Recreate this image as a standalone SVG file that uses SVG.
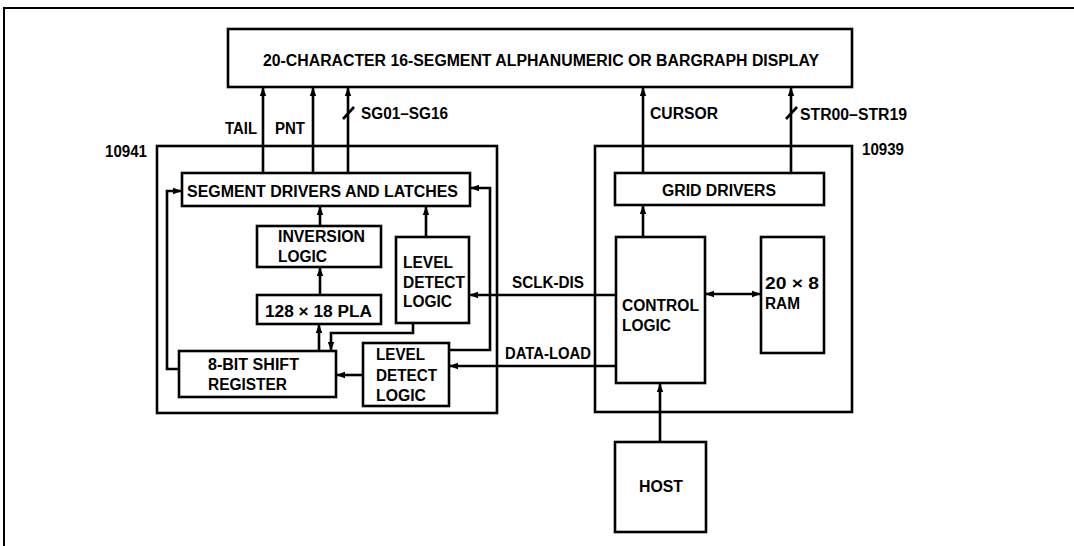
<svg xmlns="http://www.w3.org/2000/svg" width="1074" height="546" viewBox="0 0 1074 546">
<style>
.b{fill:#fff;stroke:#000;stroke-width:2.6}
.c{fill:none;stroke:#000;stroke-width:2.6}
.f{fill:none;stroke:#000;stroke-width:2}
text{font-family:"Liberation Sans",Arial,sans-serif;font-weight:bold;font-size:16px;fill:#000}
.m{text-anchor:middle}
</style>
<defs>
<marker id="a" markerUnits="userSpaceOnUse" markerWidth="10" markerHeight="8" refX="9" refY="4" orient="auto">
<path d="M0,0.8 L9,4 L0,7.2 z" fill="#000"/>
</marker>
<marker id="s" markerUnits="userSpaceOnUse" markerWidth="10" markerHeight="8" refX="0" refY="4" orient="auto">
<path d="M9,0.8 L0,4 L9,7.2 z" fill="#000"/>
</marker>
</defs>
<g id="frame">
<path class="f" d="M4,546 V8 H1074"/>
</g>
<g id="chip10941">
<rect class="c" x="157" y="146" width="340" height="267"/>
<text x="105" y="157" textLength="42" lengthAdjust="spacingAndGlyphs">10941</text>
</g>
<g id="chip10939">
<rect class="c" x="595" y="146" width="257" height="266"/>
<text x="862" y="155" textLength="42" lengthAdjust="spacingAndGlyphs">10939</text>
</g>
<g id="connectors">
<path class="c" d="M263,173 V87" marker-end="url(#a)"/>
<path class="c" d="M313,173 V87" marker-end="url(#a)"/>
<path class="c" d="M348,173 V87" marker-end="url(#a)"/>
<path class="c" d="M343,119 L354,107"/>
<path class="c" d="M643,173 V87" marker-end="url(#a)"/>
<path class="c" d="M791,173 V87" marker-end="url(#a)"/>
<path class="c" d="M786,119 L797,107"/>
<path class="c" d="M320,226 V206" marker-end="url(#a)"/>
<path class="c" d="M426,237 V206" marker-end="url(#a)"/>
<path class="c" d="M320,295 V267" marker-end="url(#a)"/>
<path class="c" d="M319,351 V324" marker-end="url(#a)"/>
<path class="c" d="M413,323 V333 H331 V351" marker-end="url(#a)"/>
<path class="c" d="M179,369 H167 V191 H182" marker-end="url(#a)"/>
<path class="c" d="M449,350 H490 V188 H470" marker-end="url(#a)"/>
<path class="c" d="M363,375 H336" marker-end="url(#a)"/>
<path class="c" d="M616,295 H469" marker-end="url(#a)"/>
<path class="c" d="M616,366 H449" marker-end="url(#a)"/>
<path class="c" d="M705,294 H761" marker-start="url(#s)" marker-end="url(#a)"/>
<path class="c" d="M643,237 V205" marker-end="url(#a)"/>
<path class="c" d="M660,442 V383" marker-end="url(#a)"/>
<text x="225" y="134" textLength="32" lengthAdjust="spacingAndGlyphs">TAIL</text>
<text x="275" y="134" textLength="30" lengthAdjust="spacingAndGlyphs">PNT</text>
<text x="361" y="119" textLength="87" lengthAdjust="spacingAndGlyphs">SG01–SG16</text>
<text x="650" y="119" textLength="68" lengthAdjust="spacingAndGlyphs">CURSOR</text>
<text x="800" y="120" textLength="107" lengthAdjust="spacingAndGlyphs">STR00–STR19</text>
<text x="512" y="288" textLength="72" lengthAdjust="spacingAndGlyphs">SCLK-DIS</text>
<text x="505" y="359" textLength="86" lengthAdjust="spacingAndGlyphs">DATA-LOAD</text>
</g>
<g id="display">
<rect class="b" x="228" y="29" width="624" height="58"/>
<text x="263" y="66" textLength="556" lengthAdjust="spacingAndGlyphs">20-CHARACTER 16-SEGMENT ALPHANUMERIC OR BARGRAPH DISPLAY</text>
</g>
<g id="segment-drivers">
<rect class="b" x="182" y="173" width="288" height="33"/>
<text x="187" y="197" textLength="271" lengthAdjust="spacingAndGlyphs">SEGMENT DRIVERS AND LATCHES</text>
</g>
<g id="inversion-logic">
<rect class="b" x="257" y="226" width="124" height="41"/>
<text x="278" y="242" textLength="87" lengthAdjust="spacingAndGlyphs">INVERSION</text>
<text x="278" y="262" textLength="49" lengthAdjust="spacingAndGlyphs">LOGIC</text>
</g>
<g id="level-detect-1">
<rect class="b" x="396" y="237" width="73" height="86"/>
<text x="403" y="268" textLength="50" lengthAdjust="spacingAndGlyphs">LEVEL</text>
<text x="403" y="288" textLength="62" lengthAdjust="spacingAndGlyphs">DETECT</text>
<text x="403" y="307" textLength="49" lengthAdjust="spacingAndGlyphs">LOGIC</text>
</g>
<g id="pla">
<rect class="b" x="257" y="295" width="124" height="29"/>
<text x="265" y="317" textLength="107" lengthAdjust="spacingAndGlyphs">128 × 18 PLA</text>
</g>
<g id="shift-register">
<rect class="b" x="179" y="351" width="157" height="46"/>
<text x="208" y="370" textLength="91" lengthAdjust="spacingAndGlyphs">8-BIT SHIFT</text>
<text x="208" y="390" textLength="79" lengthAdjust="spacingAndGlyphs">REGISTER</text>
</g>
<g id="level-detect-2">
<rect class="b" x="363" y="343" width="86" height="63"/>
<text x="376" y="360" textLength="49" lengthAdjust="spacingAndGlyphs">LEVEL</text>
<text x="376" y="381" textLength="61" lengthAdjust="spacingAndGlyphs">DETECT</text>
<text x="376" y="401" textLength="50" lengthAdjust="spacingAndGlyphs">LOGIC</text>
</g>
<g id="grid-drivers">
<rect class="b" x="615" y="173" width="209" height="32"/>
<text x="662" y="196" textLength="114" lengthAdjust="spacingAndGlyphs">GRID DRIVERS</text>
</g>
<g id="control-logic">
<rect class="b" x="616" y="237" width="89" height="146"/>
<text x="622" y="311" textLength="77" lengthAdjust="spacingAndGlyphs">CONTROL</text>
<text x="622" y="331" textLength="49" lengthAdjust="spacingAndGlyphs">LOGIC</text>
</g>
<g id="ram">
<rect class="b" x="761" y="237" width="63" height="116"/>
<text x="765" y="289" textLength="54" lengthAdjust="spacingAndGlyphs">20 × 8</text>
<text x="765" y="309" textLength="35" lengthAdjust="spacingAndGlyphs">RAM</text>
</g>
<g id="host">
<rect class="b" x="615" y="442" width="91" height="90"/>
<text x="639" y="492" textLength="44" lengthAdjust="spacingAndGlyphs">HOST</text>
</g>
</svg>
